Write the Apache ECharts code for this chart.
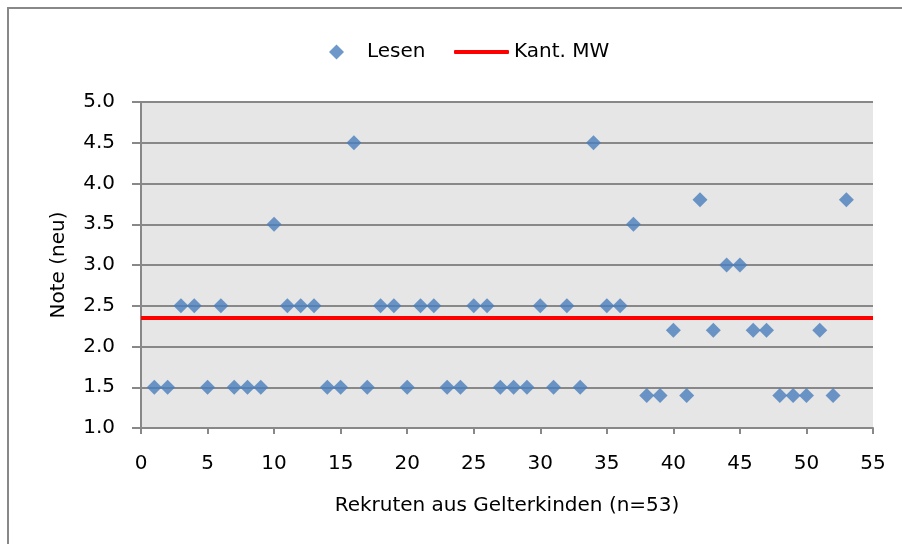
<!DOCTYPE html>
<html>
<head>
<meta charset="utf-8">
<script src="https://cdn.jsdelivr.net/npm/echarts@6/dist/echarts.min.js"></script>
<style>
  html, body { margin: 0; padding: 0; background: #fff; }
  #main { width: 902px; height: 544px; }
</style>
</head>
<body>
<div id="main"></div>
<script>
// Rekruten 1..53
var rekruten = [1, 2, 3, 4, 5, 6, 7, 8, 9, 10, 11, 12, 13, 14, 15, 16, 17, 18, 19, 20,
  21, 22, 23, 24, 25, 26, 27, 28, 29, 30, 31, 32, 33, 34, 35, 36, 37, 38, 39, 40,
  41, 42, 43, 44, 45, 46, 47, 48, 49, 50, 51, 52, 53]
// Note Lesen
var lesen = [1.5, 1.5, 2.5, 2.5, 1.5, 2.5, 1.5, 1.5, 1.5, 3.5, 2.5, 2.5, 2.5, 1.5, 1.5, 4.5, 1.5, 2.5, 2.5, 1.5,
  2.5, 2.5, 1.5, 1.5, 2.5, 2.5, 1.5, 1.5, 1.5, 2.5, 1.5, 2.5, 1.5, 4.5, 2.5, 2.5, 3.5, 1.4, 1.4, 2.2,
  1.4, 3.8, 2.2, 3.0, 3.0, 2.2, 2.2, 1.4, 1.4, 1.4, 2.2, 1.4, 3.8]
// kantonaler Mittelwert
var kantMW = 2.35
var mwX = [0, 55]

var font = 'DejaVu Sans'
var grau = '#888888'

var chartDom = document.getElementById('main')
var myChart = echarts.init(chartDom)
var option = {
  animation: false,
  textStyle: { fontFamily: font },
  graphic: [{
    type: 'rect',
    shape: { x: 8, y: 8, width: 1000, height: 1000 },
    style: { fill: 'none', stroke: grau, lineWidth: 2 }
  }],
  legend: [
    {
      data: ['Lesen'],
      left: 324,
      top: 37,
      itemWidth: 15,
      itemHeight: 15,
      textStyle: { fontSize: 20, color: '#000', padding: [0, 0, 0, 18] }
    },
    {
      data: [{ name: 'Kant. MW', icon: 'roundRect' }],
      left: 449,
      top: 37,
      itemWidth: 55,
      itemHeight: 4,
      itemGap: 0,
      textStyle: { fontSize: 20, color: '#000', padding: [0, 0, 0, 0] }
    }
  ],
  grid: {
    left: 141,
    right: 29,
    top: 102,
    bottom: 116,
    show: true,
    backgroundColor: '#e6e6e6',
    borderWidth: 0
  },
  xAxis: {
    type: 'value',
    min: 0,
    max: 55,
    interval: 5,
    name: 'Rekruten aus Gelterkinden (n=53)',
    nameLocation: 'middle',
    nameGap: 68,
    nameTextStyle: { fontSize: 20, color: '#000' },
    axisLine: { show: true, onZero: false, lineStyle: { color: grau, width: 2 } },
    axisTick: { show: true, length: 6, lineStyle: { color: grau, width: 2 } },
    axisLabel: { fontSize: 20, color: '#000', margin: 26 },
    splitLine: { show: false }
  },
  yAxis: {
    type: 'value',
    min: 1,
    max: 5,
    interval: 0.5,
    name: 'Note (neu)',
    nameLocation: 'middle',
    nameGap: 72,
    nameTextStyle: { fontSize: 20, color: '#000' },
    axisLine: { show: true, lineStyle: { color: grau, width: 2 } },
    axisTick: { show: true, length: 9, lineStyle: { color: grau, width: 2 } },
    axisLabel: {
      fontSize: 20,
      color: '#000',
      margin: 26,
      formatter: function (v) { return v.toFixed(1) }
    },
    splitLine: { show: true, lineStyle: { color: grau, width: 2 } }
  },
  series: [
    {
      name: 'Lesen',
      type: 'scatter',
      symbol: 'diamond',
      symbolSize: 15,
      itemStyle: { color: '#4a7ebb' },
      data: rekruten.map(function (x, i) { return [x, lesen[i]] }),
      z: 3
    },
    {
      name: 'Kant. MW',
      type: 'line',
      showSymbol: false,
      symbol: 'none',
      lineStyle: { color: '#ff0000', width: 4 },
      itemStyle: { color: '#ff0000' },
      data: mwX.map(function (x) { return [x, kantMW] }),
      z: 2
    }
  ]
}
myChart.setOption(option)
</script>
</body>
</html>
